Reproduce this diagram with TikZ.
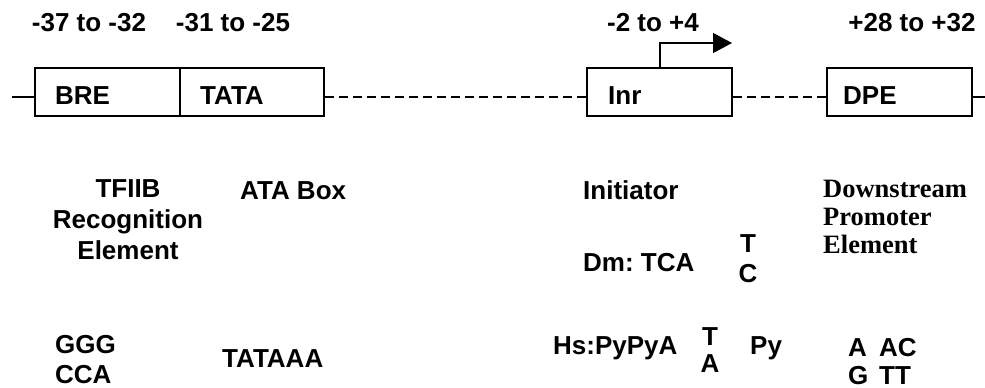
\documentclass[tikz,border=0pt]{standalone}
\usepackage{fontspec}
\setmainfont{Liberation Sans}
\newfontfamily\serifbold{Liberation Serif}
\usetikzlibrary{arrows.meta}
\begin{document}
\begin{tikzpicture}[x=1pt,y=-1pt,
  elbox/.style={draw,line width=1.3pt,minimum width=145pt,minimum height=48pt,inner sep=0pt},
  lbl/.style={font=\fontsize{26}{30}\selectfont\bfseries\frenchspacing,inner sep=0pt},
  slbl/.style={font=\fontsize{26.5}{28}\selectfont\serifbold\bfseries,inner sep=0pt},
  conn/.style={line width=1.3pt},
  dconn/.style={line width=1.3pt,dash pattern=on 9pt off 5pt}]
\useasboundingbox (0,0) rectangle (985,388);
% boxes
\node[elbox,minimum width=145pt] (bre) at (107.5,92) {};
\node[elbox,minimum width=144pt] (tata) at (252,92) {};
\node[elbox] (inr) at (659.5,92) {};
\node[elbox] (dpe) at (899.5,92) {};
\coordinate (ly) at (0,97);
\coordinate (lstart) at (12,97);
\coordinate (lend) at (985,97);
\draw[conn] (lstart) -- (bre.west |- ly);
\draw[dconn] (tata.east |- ly) -- (inr.west |- ly);
\draw[dconn] (inr.east |- ly) -- (dpe.west |- ly);
\draw[conn] (dpe.east |- ly) -- (lend);
% transcription start arrow
\coordinate (tss) at (660,68);
\coordinate (tssup) at (660,43);
\coordinate (tsstip) at (732,43);
\draw[conn,-{Triangle[length=19pt,width=20pt]}] (tss) -- (tssup) -- (tsstip);
% box labels
\node[lbl,anchor=base west] (brel) at (55,104) {BRE};
\node[lbl,anchor=base west] (tatal) at (200,104) {TATA};
\node[lbl,anchor=base west] (inrl) at (608,104) {Inr};
\node[lbl,anchor=base west] (dpel) at (843,104) {DPE};
% positions
\node[lbl,anchor=base] (p1) at (89,31) {-37 to -32};
\node[lbl,anchor=base] (p2) at (233,31) {-31 to -25};
\node[lbl,anchor=base] (p3) at (653,31) {-2 to +4};
\node[lbl,anchor=base] (p4) at (912,31) {+28 to +32};
% names
\node[lbl,anchor=base] (n1a) at (128,197) {TFIIB};
\node[lbl,anchor=base] (n1b) at (128,228) {Recognition};
\node[lbl,anchor=base] (n1c) at (128,259) {Element};
\node[lbl,anchor=base west] (n2) at (240,199) {ATA Box};
\node[lbl,anchor=base west] (n3) at (583,199) {Initiator};
\node[slbl,anchor=base west] (n4a) at (823,197) {Downstream};
\node[slbl,anchor=base west] (n4b) at (823,225) {Promoter};
\node[slbl,anchor=base west] (n4c) at (823,253) {Element};
% sequences
\node[lbl,anchor=base west] (s1a) at (55,353) {GGG};
\node[lbl,anchor=base west] (s1b) at (55,383) {CCA};
\node[lbl,anchor=base west] (s2) at (222,367) {TATAAA};
\node[lbl,anchor=base west] (dm) at (583,271) {Dm: TCA};
\node[lbl,anchor=base] (dmt) at (748,252) {T};
\node[lbl,anchor=base] (dmc) at (748,282) {C};
\node[lbl,anchor=base west] (hs) at (553,354) {Hs:PyPyA};
\node[lbl,anchor=base] (hst) at (710,345) {T};
\node[lbl,anchor=base] (hsa) at (710,372) {A};
\node[lbl,anchor=base west] (hspy) at (750,354) {Py};
\node[lbl,anchor=base west] (da) at (848,356) {A};
\node[lbl,anchor=base west] (dac) at (879,356) {AC};
\node[lbl,anchor=base west] (dg) at (848,384) {G};
\node[lbl,anchor=base west] (dtt) at (879,384) {TT};
\end{tikzpicture}
\end{document}
